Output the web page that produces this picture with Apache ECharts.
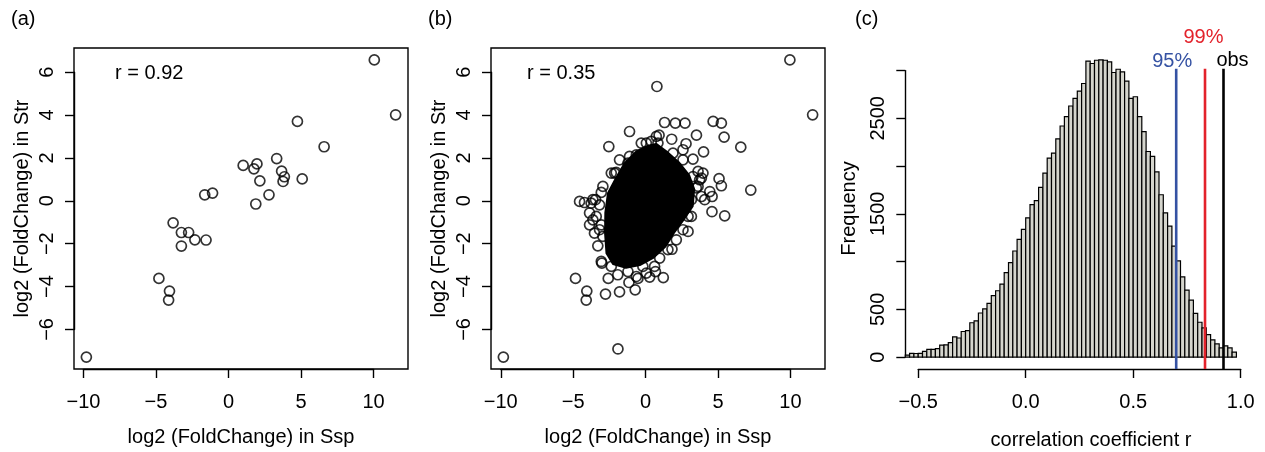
<!DOCTYPE html>
<html>
<head>
<meta charset="utf-8">
<script src="https://cdn.jsdelivr.net/npm/echarts@6/dist/echarts.min.js"></script>
<style>html,body{margin:0;background:#fff}#main{width:1265px;height:452px}</style>
</head>
<body>
<div id="main"></div>
<script>
// (a) log2 fold change, Ssp vs Str
var aPoints = [
  [10.05, 6.57], [11.52, 4.01], [4.75, 3.70], [6.59, 2.52], [3.32, 1.97],
  [1.01, 1.65], [1.96, 1.72], [1.75, 1.49], [3.66, 1.38], [3.85, 1.12],
  [3.76, 0.90], [5.08, 1.02], [2.16, 0.93], [2.79, 0.28], [1.88, -0.15],
  [-1.64, 0.28], [-1.10, 0.36], [-3.82, -1.03], [-3.25, -1.48], [-2.75, -1.48],
  [-2.32, -1.82], [-1.55, -1.83], [-3.25, -2.11], [-4.80, -3.62], [-4.07, -4.21],
  [-4.13, -4.63], [-9.80, -7.29]
];
// (b) all genes: circles that stand out, plus outline of the solid black core
var bPoints = [
  [9.96, 6.57], [11.53, 4.01], [0.78, 5.33], [-9.82, -7.29], [-1.91, -6.91],
  [-4.84, -3.62], [-4.06, -4.21], [-4.10, -4.63], [7.26, 0.50], [6.57, 2.50],
  [5.42, 2.97], [4.66, 3.70], [5.23, 3.62], [5.46, -0.70], [4.58, -0.51],
  [5.07, 1.03], [5.23, 0.70], [-1.11, 3.23], [-2.54, 2.53], [1.31, 3.65],
  [2.05, 3.62], [2.72, 3.62], [3.51, 3.06], [4.00, 2.28], [1.80, 2.87],
  [0.93, 3.06], [2.79, 2.66], [-2.77, -4.35], [-1.80, -4.25], [-0.72, -4.15],
  [-1.15, -3.81], [-0.53, -3.62], [0.28, -3.56], [1.22, -3.58], [0.68, -3.30],
  [-2.58, -3.62], [-3.02, -2.91], [-3.30, -2.10], [2.93, -1.43], [1.82, -2.26],
  [-4.22, -0.08], [-3.76, -0.11], [-4.56, -0.03], [-3.64, 0.05], [-3.18, -0.19],
  [-3.87, -0.57], [-3.64, -0.89], [-3.87, -1.12], [-3.06, -1.12], [-3.53, -1.51],
  [-2.95, -1.66], [-3.06, 0.39], [-3.46, 0.05], [-3.06, -2.83], [-2.37, -3.06],
  [-1.92, -3.45], [-1.22, -3.30], [-0.64, -3.53], [0.05, -3.37], [0.62, -3.06],
  [-0.30, 2.69], [0.39, 2.77], [0.74, 3.00], [-2.14, 1.29], [-1.22, 1.76],
  [-0.64, 2.14], [-2.03, 1.32], [0.85, 2.69], [2.58, 2.38], [3.27, 1.94],
  [3.62, 1.37], [3.85, 1.06], [4.43, 0.43], [4.59, 0.20], [4.08, 0.05],
  [3.16, -0.73], [3.62, 0.67], [3.96, 1.29], [3.73, 0.98], [3.85, 0.20],
  [3.16, 0.05], [2.93, -0.73], [2.58, -1.35], [2.12, -1.82], [1.54, -2.28],
  [0.97, -2.67], [-0.19, -3.06], [-3.18, -1.35], [-3.41, -0.73], [-2.95, 0.67],
  [-2.37, 1.29], [-1.80, 1.91], [-1.11, 2.07], [0.05, 2.69], [1.89, 2.22],
  [2.58, 1.91], [3.27, 1.13], [3.50, 0.60]
];
var bCore = [
  [-1.45, 1.75], [-0.64, 2.30], [0.10, 2.55], [0.75, 2.65], [1.45, 2.30],
  [2.35, 1.75], [3.00, 1.20], [3.35, 0.55], [3.25, -0.25], [2.60, -0.90],
  [1.95, -1.50], [1.35, -2.15], [0.55, -2.65], [-0.40, -3.00], [-1.35, -3.12],
  [-2.25, -2.95], [-2.70, -2.45], [-2.80, -1.50], [-2.78, -0.55], [-2.60, 0.35],
  [-2.05, 1.05]
];
// (c) permutation histogram of r, bins of 0.02 starting at -0.56
var histStart = -0.56, histWidth = 0.02;
var histCounts = [
  20, 40, 38, 40, 60, 80, 80, 88, 125, 128,
  152, 212, 200, 268, 277, 360, 380, 462, 505, 562,
  643, 695, 764, 885, 990, 1111, 1233, 1337, 1458, 1597,
  1639, 1778, 1927, 2084, 2136, 2285, 2420, 2517, 2629, 2709,
  2785, 2865, 3100, 3074, 3108, 3112, 3108, 3091, 2980, 3014,
  2986, 2890, 2709, 2726, 2517, 2361, 2153, 2101, 1940, 1700,
  1511, 1372, 1163, 1007, 840, 702, 597, 458, 365, 306,
  236, 181, 139, 97, 118, 97, 52
];
var cutNames = ['95%', '99%', 'obs'];
var cutValues = [0.70, 0.834, 0.92];
var cutTop = 3020;
var xTicksAB = [-10, -5, 0, 5, 10];
var yTicksAB = [-6, -4, -2, 0, 2, 4, 6];
var xTicksC = [-0.5, 0, 0.5, 1.0];
var yTicksC = [0, 500, 1000, 1500, 2000, 2500, 3000];
var yLabelsC = [0, 500, 1500, 2500];

var FONT = 'Liberation Sans';
var TXT = { color: '#000', fontFamily: FONT, fontSize: 20 };
var cutColors = ['#3552A3', '#E3222B', '#000'];
var cutLabelShift = [[-4, -7], [-1.5, -31], [9, -8]];

function minus(v) { return (v < 0 ? '\u2212' : '') + Math.abs(v); }
function rLim(vals) {
  var lo = Math.min.apply(null, vals), hi = Math.max.apply(null, vals);
  var pad = (hi - lo) * 0.04;
  return [lo - pad, hi + pad];
}
function col(arr, k) { return arr.map(function (p) { return p[k]; }); }

var aX = rLim(col(aPoints, 0)), aY = rLim(col(aPoints, 1));
var bX = rLim(col(bPoints, 0)), bY = rLim(col(bPoints, 1));
var cMax = Math.max.apply(null, histCounts);
var cY = [-0.04 * cMax, 1.04 * cMax];
var cX = [histStart, histStart + (histCounts.length + 3) * histWidth];

var histData = histCounts.map(function (c, i) {
  return [histStart + i * histWidth, histStart + (i + 1) * histWidth, c];
});

function dataAxis(g, lim, name, gap) {
  return {
    gridIndex: g, type: 'value', min: lim[0], max: lim[1],
    axisLine: { show: false }, axisTick: { show: false },
    axisLabel: { show: false }, splitLine: { show: false },
    name: name, nameLocation: 'middle', nameGap: gap, nameTextStyle: TXT
  };
}

var ring = { color: 'rgba(0,0,0,0)', borderColor: '#000', borderWidth: 1.7 };
var box = { show: true, borderColor: '#000', borderWidth: 1.4, backgroundColor: 'transparent' };

var option = {
  animation: false,
  grid: [
    Object.assign({ left: 74, top: 48, width: 334, height: 321 }, box),
    Object.assign({ left: 491, top: 48, width: 334, height: 321 }, box),
    { left: 905.3, top: 48, width: 344, height: 321, show: false }
  ],
  xAxis: [
    dataAxis(0, aX, 'log2 (FoldChange) in Ssp', 58),
    dataAxis(1, bX, 'log2 (FoldChange) in Ssp', 58),
    dataAxis(2, cX, '', 0)
  ],
  yAxis: [
    dataAxis(0, aY, 'log2 (FoldChange) in Str', 42),
    dataAxis(1, bY, 'log2 (FoldChange) in Str', 42),
    dataAxis(2, cY, 'Frequency', 46)
  ],
  series: [
    { type: 'scatter', xAxisIndex: 0, yAxisIndex: 0, data: aPoints,
      symbolSize: 10, itemStyle: ring, silent: true },
    { type: 'custom', xAxisIndex: 1, yAxisIndex: 1, data: bCore, silent: true,
      encode: { x: 0, y: 1 },
      renderItem: function (params, api) {
        if (params.dataIndex !== 0) return null;
        return { type: 'polygon',
          shape: { points: bCore.map(function (p) { return api.coord(p); }) },
          style: { fill: '#000', stroke: '#000', lineWidth: 2, lineJoin: 'round' } };
      } },
    { type: 'scatter', xAxisIndex: 1, yAxisIndex: 1, data: bPoints,
      symbolSize: 10, itemStyle: ring, silent: true },
    { type: 'custom', xAxisIndex: 2, yAxisIndex: 2, data: histData, silent: true,
      encode: { x: [0, 1], y: 2 },
      renderItem: function (params, api) {
        var p0 = api.coord([api.value(0), api.value(2)]);
        var p1 = api.coord([api.value(1), 0]);
        return { type: 'rect',
          shape: { x: p0[0], y: p0[1], width: p1[0] - p0[0], height: p1[1] - p0[1] },
          style: { fill: '#d5d5cd', stroke: '#000', lineWidth: 1.2 } };
      } }
  ].concat(cutValues.map(function (v, i) {
    return { type: 'line', xAxisIndex: 2, yAxisIndex: 2, symbol: 'none', silent: true,
      data: [[v, cY[0]], [v, cutTop]], z: 5,
      lineStyle: { color: cutColors[i], width: 2.6 } };
  }))
};

var chart = echarts.init(document.getElementById('main'), null, { renderer: 'canvas' });
chart.setOption(option);

// R-style axes: lines only from first to last tick, placed on the box edge
function px(axis, v) { return chart.convertToPixel(axis, v); }
function decoAxes(k, xt, yt, boxBottom, boxLeft, xfmt, yfmt) {
  var l = px({ xAxisIndex: k }, xt[0]), r = px({ xAxisIndex: k }, xt[xt.length - 1]);
  var t = px({ yAxisIndex: k }, yt[yt.length - 1]), b = px({ yAxisIndex: k }, yt[0]);
  var g = option.grid.length;
  option.grid.push({ left: l, top: t, width: r - l, height: b - t, show: false });
  var line = { show: true, onZero: false, lineStyle: { color: '#000', width: 1.4 } };
  var tick = { show: true, length: 9, lineStyle: { color: '#000', width: 1.4 } };
  option.xAxis.push({ gridIndex: g, type: 'value', position: 'bottom',
    min: xt[0], max: xt[xt.length - 1], interval: xt[1] - xt[0], offset: boxBottom - b,
    axisLine: line, axisTick: tick, splitLine: { show: false },
    axisLabel: Object.assign({ margin: 23, formatter: xfmt }, TXT) });
  option.yAxis.push({ gridIndex: g, type: 'value', position: 'left',
    min: yt[0], max: yt[yt.length - 1], interval: yt[1] - yt[0], offset: l - boxLeft,
    axisLine: line, axisTick: tick, splitLine: { show: false },
    axisLabel: Object.assign({ margin: 17, rotate: 90, formatter: yfmt }, TXT) });
  return g;
}
decoAxes(0, xTicksAB, yTicksAB, 369, 74, minus, minus);
decoAxes(1, xTicksAB, yTicksAB, 369, 491, minus, minus);
decoAxes(2, xTicksC, yTicksC, 369, 905.3,
  function (v) { return (v < 0 ? '\u2212' : '') + Math.abs(v).toFixed(1); },
  function (v) { return yLabelsC.indexOf(v) >= 0 ? String(v) : ''; });

function label(text, x, y, align, color) {
  return { type: 'text', x: x, y: y, silent: true,
    style: { text: text, fill: color || '#000', font: '20px "' + FONT + '"',
      align: align || 'left', verticalAlign: 'middle' } };
}
var graphics = [
  label('(a)', 11, 19), label('(b)', 428, 19), label('(c)', 855, 19),
  label('r = 0.92', 115, 73), label('r = 0.35', 527, 73),
  label('correlation coefficient r', 1091, 440, 'center')
];
cutValues.forEach(function (v, i) {
  var p = chart.convertToPixel({ xAxisIndex: 2, yAxisIndex: 2 }, [v, cutTop]);
  graphics.push(label(cutNames[i], p[0] + cutLabelShift[i][0], p[1] + cutLabelShift[i][1],
    'center', cutColors[i]));
});
option.graphic = graphics;
chart.setOption(option, true);
</script>
</body>
</html>
